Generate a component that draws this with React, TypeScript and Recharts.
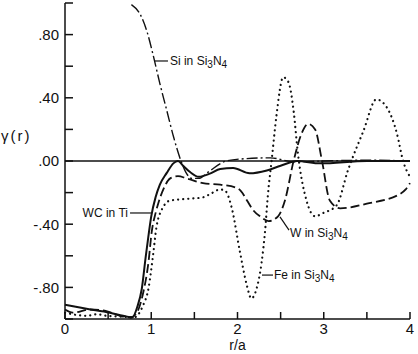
import { LineChart, Line, XAxis, YAxis, ReferenceLine, ReferenceDot } from "recharts";

// r/a axis ticks (labels only on the integers) and gamma(r) ticks
const xTicks = [0, 0.5, 1, 1.5, 2, 2.5, 3, 3.5, 4];
const yTicks = [-1, -0.8, -0.6, -0.4, -0.2, 0, 0.2, 0.4, 0.6, 0.8, 1];
const yTickText: Record<string, string> = { "0.8": ".80", "0.4": ".40", "0": ".00", "-0.4": "-.40", "-0.8": "-.80" };

// [r/a, gamma]
const siCurve: [number, number][] = [
  [0.77, 0.99], [0.87, 0.93], [0.95, 0.82], [1.02, 0.675], [1.1, 0.49], [1.18, 0.32], [1.26, 0.15],
  [1.345, 0.0], [1.4, -0.07], [1.47, -0.11], [1.55, -0.11], [1.66, -0.07], [1.87, 0.0], [2.1, 0.015],
  [2.38, 0.02], [2.65, -0.005], [3.0, 0.0], [3.5, 0.005], [4.0, 0.0],
];
const wcCurve: [number, number][] = [
  [0, -0.91], [0.25, -0.935], [0.52, -0.96], [0.72, -0.985], [0.78, -0.99], [0.84, -0.92], [0.89, -0.81],
  [0.935, -0.61], [0.966, -0.48], [1.0, -0.35], [1.05, -0.23], [1.1, -0.15], [1.18, -0.075], [1.256, -0.015],
  [1.31, 0.0], [1.37, -0.03], [1.45, -0.07], [1.55, -0.1], [1.68, -0.08], [1.8, -0.05], [1.95, -0.045],
  [2.14, -0.078], [2.34, -0.06], [2.5, -0.03], [2.69, 0.0], [2.96, -0.015], [3.5, 0.0], [4.0, 0.0],
];
const wCurve: [number, number][] = [
  [0, -0.94], [0.09, -0.96], [0.29, -0.94], [0.48, -0.95], [0.64, -0.98], [0.75, -0.99], [0.82, -0.97],
  [0.9, -0.85], [0.97, -0.63], [1.005, -0.45], [1.05, -0.33], [1.08, -0.27], [1.14, -0.18], [1.22, -0.11],
  [1.31, -0.096], [1.41, -0.11], [1.6, -0.14], [1.8, -0.15], [1.99, -0.17], [2.04, -0.19], [2.11, -0.25],
  [2.18, -0.31], [2.26, -0.35], [2.36, -0.38], [2.47, -0.35], [2.55, -0.25], [2.65, 0.0], [2.74, 0.17],
  [2.82, 0.235], [2.9, 0.2], [2.98, 0.0], [3.07, -0.25], [3.19, -0.3], [3.5, -0.27], [3.88, -0.21],
  [3.95, -0.18], [4.0, -0.14],
];
const feCurve: [number, number][] = [
  [0, -0.96], [0.25, -0.98], [0.37, -0.97], [0.48, -0.98], [0.65, -0.985], [0.8, -0.99], [0.9, -0.92],
  [0.97, -0.8], [1.02, -0.6], [1.06, -0.42], [1.12, -0.31], [1.22, -0.25], [1.41, -0.24], [1.6, -0.23],
  [1.68, -0.21], [1.8, -0.18], [1.86, -0.19], [1.93, -0.29], [2.03, -0.58], [2.11, -0.79], [2.16, -0.87],
  [2.22, -0.81], [2.28, -0.64], [2.32, -0.44], [2.35, -0.23], [2.4, 0.025], [2.45, 0.28], [2.53, 0.53],
  [2.59, 0.5], [2.65, 0.32], [2.7, 0.05], [2.8, -0.25], [2.9, -0.35], [2.99, -0.33], [3.15, -0.28],
  [3.28, -0.06], [3.32, 0.0], [3.46, 0.19], [3.61, 0.39], [3.73, 0.34], [3.85, 0.17], [3.92, 0.0], [4.0, -0.1],
];

const toPoints = (c: [number, number][]) => c.map(([x, y]) => ({ x, y }));

const INK = "#111";
const FONT = "'Liberation Sans', Arial, sans-serif";

const BottomTick = ({ x, y, payload }: any) => {
  const v = payload.value;
  return (
    <g>
      <line x1={x} x2={x} y1={y} y2={y - 7} stroke={INK} strokeWidth={1.5} />
      {Number.isInteger(v) && (
        <text x={x} y={y + 15} textAnchor="middle" fontSize={15} fontFamily={FONT} fill={INK}>
          {v}
        </text>
      )}
    </g>
  );
};

const TopTick = ({ x, y }: any) => <line x1={x} x2={x} y1={y} y2={y + 7} stroke={INK} strokeWidth={1.5} />;

const LeftTick = ({ x, y, payload }: any) => {
  const lbl = yTickText[String(payload.value)];
  return (
    <g>
      <line x1={x} x2={x + 8} y1={y} y2={y} stroke={INK} strokeWidth={1.5} />
      {lbl && (
        <text x={x - 6} y={y} dy="0.36em" textAnchor="end" fontSize={15} fontFamily={FONT} fill={INK}>
          {lbl}
        </text>
      )}
    </g>
  );
};

const RightTick = ({ x, y }: any) => <line x1={x} x2={x - 8} y1={y} y2={y} stroke={INK} strokeWidth={1.5} />;

// "X in Si3N4" style label with lowered subscripts
const Annot = (text: string, sub: boolean, anchor: "start" | "end" = "start") => (p: any) => (
  <text x={p.cx} y={p.cy} dy={4} textAnchor={anchor} fontSize={12} fontFamily={FONT} fill={INK}>
    <tspan>{text}</tspan>
    {sub && (
      <>
        <tspan>Si</tspan>
        <tspan dy={3} fontSize={10}>3</tspan>
        <tspan dy={-3}>N</tspan>
        <tspan dy={3} fontSize={10}>4</tspan>
      </>
    )}
  </text>
);

export default function App() {
  return (
    <div style={{ position: "absolute", left: 0, top: 0, width: 418, height: 354, background: "#fff" }}>
      <LineChart width={418} height={354} margin={{ top: 3, right: 8, bottom: 0, left: 0 }}>
        <XAxis
          xAxisId="b"
          type="number"
          dataKey="x"
          domain={[0, 4]}
          ticks={xTicks}
          interval={0}
          height={35}
          tickSize={0}
          tickMargin={0}
          tick={BottomTick}
          axisLine={{ stroke: INK, strokeWidth: 1.5 }}
          label={({ viewBox }: any) => (
            <text x={viewBox.x + viewBox.width / 2} y={viewBox.y + 31} textAnchor="middle" fontSize={14} fontFamily={FONT} fill={INK}>
              r/a
            </text>
          )}
        />
        <XAxis
          xAxisId="t"
          orientation="top"
          type="number"
          dataKey="x"
          domain={[0, 4]}
          ticks={xTicks}
          interval={0}
          height={0}
          tickSize={0}
          tickMargin={0}
          tick={TopTick}
          axisLine={{ stroke: INK, strokeWidth: 1.5 }}
        />
        <YAxis
          yAxisId="l"
          type="number"
          domain={[-1, 1]}
          allowDataOverflow
          ticks={yTicks}
          interval={0}
          width={65}
          tickSize={0}
          tickMargin={0}
          tick={LeftTick}
          axisLine={{ stroke: INK, strokeWidth: 1.5 }}
          label={({ viewBox }: any) => (
            <text x={viewBox.x + 1} y={viewBox.y + viewBox.height / 2 - 20} fontSize={15} fontFamily={FONT} fill={INK} letterSpacing={2}>
              γ(r)
            </text>
          )}
        />
        <YAxis
          yAxisId="r"
          orientation="right"
          type="number"
          domain={[-1, 1]}
          ticks={yTicks}
          interval={0}
          width={0}
          tickSize={0}
          tickMargin={0}
          tick={RightTick}
          axisLine={{ stroke: INK, strokeWidth: 1.5 }}
        />
        <ReferenceLine xAxisId="b" yAxisId="l" y={0} stroke={INK} strokeWidth={1.5} />

        <Line xAxisId="b" yAxisId="l" data={toPoints(siCurve)} dataKey="y" type="monotone" stroke={INK}
          strokeWidth={1.4} strokeDasharray="11 3 2 3" dot={false} isAnimationActive={false} />
        <Line xAxisId="b" yAxisId="l" data={toPoints(wcCurve)} dataKey="y" type="monotone" stroke={INK}
          strokeWidth={2} dot={false} isAnimationActive={false} />
        <Line xAxisId="b" yAxisId="l" data={toPoints(wCurve)} dataKey="y" type="monotone" stroke={INK}
          strokeWidth={1.8} strokeDasharray="9 4" dot={false} isAnimationActive={false} />
        <Line xAxisId="b" yAxisId="l" data={toPoints(feCurve)} dataKey="y" type="monotone" stroke={INK}
          strokeWidth={2.2} strokeDasharray="0.1 5" strokeLinecap="round" dot={false} isAnimationActive={false} />

        {/* annotation pointers */}
        <ReferenceLine xAxisId="b" yAxisId="l" segment={[{ x: 1.043, y: 0.633 }, { x: 1.194, y: 0.633 }]} stroke={INK} strokeWidth={1.2} />
        <ReferenceLine xAxisId="b" yAxisId="l" segment={[{ x: 0.754, y: -0.329 }, { x: 1.009, y: -0.329 }]} stroke={INK} strokeWidth={1.2} />
        <ReferenceLine xAxisId="b" yAxisId="l" segment={[{ x: 2.493, y: -0.354 }, { x: 2.597, y: -0.437 }]} stroke={INK} strokeWidth={1.2} />
        <ReferenceLine xAxisId="b" yAxisId="l" segment={[{ x: 2.284, y: -0.722 }, { x: 2.412, y: -0.722 }]} stroke={INK} strokeWidth={1.2} />

        <ReferenceDot xAxisId="b" yAxisId="l" x={1.217} y={0.633} r={0} shape={Annot("Si in ", true)} />
        <ReferenceDot xAxisId="b" yAxisId="l" x={0.73} y={-0.329} r={0} shape={Annot("WC in Ti", false, "end")} />
        <ReferenceDot xAxisId="b" yAxisId="l" x={2.609} y={-0.456} r={0} shape={Annot("W in ", true)} />
        <ReferenceDot xAxisId="b" yAxisId="l" x={2.423} y={-0.722} r={0} shape={Annot("Fe in ", true)} />
      </LineChart>
    </div>
  );
}
